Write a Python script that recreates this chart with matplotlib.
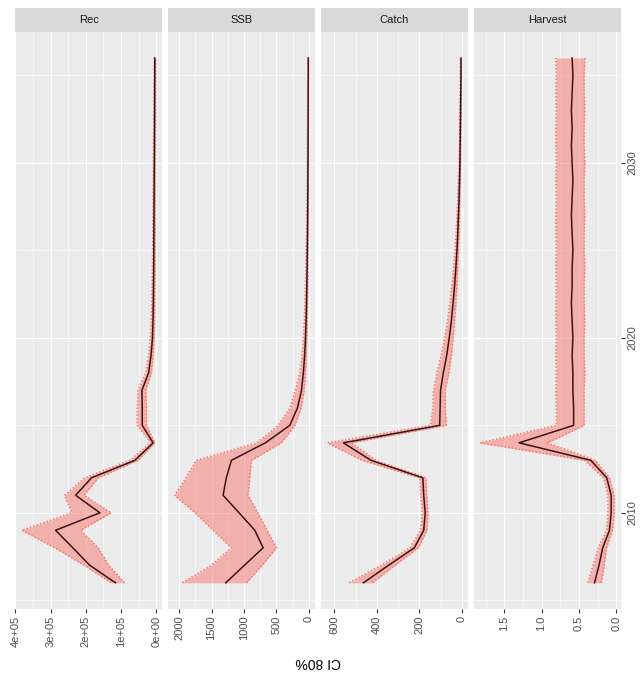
import matplotlib
matplotlib.use("Agg")
import matplotlib.pyplot as plt
from matplotlib.ticker import FixedLocator

plt.rcParams['font.family'] = ['Liberation Sans', 'DejaVu Sans']

years = list(range(2006, 2037))

rec_med = [116000, 189000, 237000, 286000, 160000, 229000, 184000, 61000, 9000, 40000,
           40000, 41000, 22000, 15000, 11000, 9500, 8500, 8000, 7500, 7200,
           7000, 6700, 6400, 6100, 5800, 5500, 5200, 5000, 4800, 4600, 4400]
rec_lo = [90000, 135000, 165000, 215000, 128000, 205000, 165000, 52000, 4000, 28000,
          28000, 30000, 14000, 9000, 6000, 5000, 4500, 4200, 3900, 3700,
          3500, 3300, 3100, 2900, 2700, 2500, 2300, 2200, 2100, 2000, 1900]
rec_hi = [128000, 205000, 288000, 382000, 240000, 260000, 203000, 75000, 16000, 54000,
          54000, 52000, 30000, 22000, 17000, 14500, 13000, 12000, 11200, 10600,
          10000, 9500, 9000, 8500, 8000, 7600, 7200, 6900, 6600, 6300, 6000]

ssb_med = [1281, 993, 705, 833, 1076, 1322, 1272, 1194, 670, 293,
           176, 114, 85, 65, 52, 43, 36, 31, 27, 24,
           21, 19, 17, 15, 14, 13, 12, 11, 10, 9, 9]
ssb_lo = [960, 720, 500, 643, 787, 937, 911, 885, 423, 216,
          119, 73, 52, 40, 32, 26, 22, 19, 16, 14,
          12, 11, 10, 9, 8, 7, 7, 6, 6, 5, 5]
ssb_hi = [1950, 1503, 1194, 1477, 1755, 2070, 1894, 1734, 800, 474,
          290, 210, 140, 105, 85, 70, 60, 52, 45, 40,
          35, 32, 28, 25, 23, 21, 19, 17, 16, 15, 14]

catch_med = [463, 345, 224, 180, 173, 180, 184, 428, 557, 105,
             103, 101, 88, 72, 60, 50, 42, 35, 29, 24,
             20, 17, 14, 12, 10, 9, 8, 7, 6, 5, 5]
catch_lo = [420, 315, 205, 165, 160, 166, 170, 405, 520, 74,
            79, 79, 62, 50, 42, 35, 29, 24, 20, 17,
            14, 12, 10, 8, 7, 6, 5, 5, 4, 4, 3]
catch_hi = [530, 380, 245, 195, 187, 194, 199, 470, 632, 148,
            137, 134, 118, 98, 82, 68, 57, 48, 40, 34,
            28, 24, 20, 17, 14, 12, 11, 10, 9, 8, 7]

harv_med = [0.29, 0.23, 0.18, 0.09, 0.067, 0.067, 0.126, 0.34, 1.30, 0.57,
            0.57, 0.58, 0.58, 0.59, 0.58, 0.59, 0.60, 0.59, 0.59, 0.58,
            0.59, 0.60, 0.59, 0.58, 0.59, 0.60, 0.59, 0.60, 0.59, 0.58, 0.59]
harv_lo = [0.20, 0.16, 0.13, 0.05, 0.025, 0.025, 0.09, 0.28, 0.92, 0.43,
           0.43, 0.43, 0.42, 0.43, 0.43, 0.42, 0.43, 0.43, 0.42, 0.43,
           0.43, 0.42, 0.43, 0.43, 0.42, 0.43, 0.43, 0.42, 0.43, 0.43, 0.42]
harv_hi = [0.38, 0.31, 0.24, 0.13, 0.11, 0.11, 0.17, 0.42, 1.82, 0.80,
           0.80, 0.81, 0.80, 0.81, 0.80, 0.81, 0.81, 0.80, 0.81, 0.80,
           0.81, 0.81, 0.80, 0.81, 0.80, 0.81, 0.81, 0.80, 0.81, 0.80, 0.81]

panels = ["Rec", "SSB", "Catch", "Harvest"]
series = [(rec_med, rec_lo, rec_hi), (ssb_med, ssb_lo, ssb_hi),
          (catch_med, catch_lo, catch_hi), (harv_med, harv_lo, harv_hi)]
major_ticks = [[0, 100000, 200000, 300000, 400000],
               [0, 500, 1000, 1500, 2000],
               [0, 200, 400, 600],
               [0.0, 0.5, 1.0, 1.5]]
tick_labels = [["0e+00", "1e+05", "2e+05", "3e+05", "4e+05"],
               ["0", "500", "1000", "1500", "2000"],
               ["0", "200", "400", "600"],
               ["0.0", "0.5", "1.0", "1.5"]]
year_ticks = [2010, 2020, 2030]
year_labels = ["2010", "2020", "2030"]
xlabel = "CI 80%"

W, H = 641, 675
fig = plt.figure(figsize=(W / 100, H / 100), dpi=100)
fig.patch.set_facecolor("white")

left0, right_end, gap = 15.0, 621.0, 5.5
pw = (right_end - left0 - 3 * gap) / 4
ptop, pbot = 31.75, 609.0
strip_top = 8.5

ribbon = "#F8766D"
line_col = "#3a1414"

for i, (name, (med, lo, hi)) in enumerate(zip(panels, series)):
    x0 = left0 + i * (pw + gap)
    ax = fig.add_axes([x0 / W, 1 - pbot / H, pw / W, (pbot - ptop) / H])
    ax.set_facecolor("#EBEBEB")
    for s in ax.spines.values():
        s.set_visible(False)

    ax.fill_betweenx(years, lo, hi, color=ribbon, alpha=0.5, linewidth=0, zorder=2)
    ax.plot(lo, years, color=ribbon, lw=1.1, ls=(0, (1, 1.3)), zorder=3)
    ax.plot(hi, years, color=ribbon, lw=1.1, ls=(0, (1, 1.3)), zorder=3)
    ax.plot(med, years, color=line_col, lw=1.1, zorder=4)

    mn, mx = min(lo), max(hi)
    r = mx - mn
    ax.set_xlim(mx + 0.05 * r, mn - 0.05 * r)
    yr = years[-1] - years[0]
    ax.set_ylim(years[0] - 0.05 * yr, years[-1] + 0.05 * yr)

    mt = major_ticks[i]
    step = mt[1] - mt[0]
    minors = [mt[0] - step / 2] + [t + step / 2 for t in mt]
    ax.xaxis.set_major_locator(FixedLocator(mt))
    ax.xaxis.set_minor_locator(FixedLocator(minors))
    ax.set_xticklabels(tick_labels[i])
    ax.yaxis.set_major_locator(FixedLocator(year_ticks))
    ax.yaxis.set_minor_locator(FixedLocator([2005, 2015, 2025, 2035]))
    ax.set_yticklabels(year_labels)

    ax.grid(which="major", color="white", lw=0.85)
    ax.grid(which="minor", color="white", lw=0.4)
    ax.set_axisbelow(True)

    ax.tick_params(axis="x", which="major", length=2.6, width=0.8, color="#333333",
                   labelsize=8, labelcolor="#4D4D4D", labelrotation=90, pad=2)
    ax.tick_params(axis="both", which="minor", length=0)
    if i == len(panels) - 1:
        ax.yaxis.tick_right()
        ax.tick_params(axis="y", which="major", length=2.6, width=0.8, color="#333333",
                       labelsize=8, labelcolor="#4D4D4D", pad=2)
        for lab in ax.get_yticklabels():
            lab.set_rotation(90)
            lab.set_va("center")
    else:
        ax.tick_params(axis="y", which="major", left=False, right=False,
                       labelleft=False, labelright=False)

    sax = fig.add_axes([x0 / W, 1 - ptop / H, pw / W, (ptop - strip_top) / H])
    sax.set_facecolor("#D9D9D9")
    sax.set_xticks([])
    sax.set_yticks([])
    for s in sax.spines.values():
        s.set_visible(False)
    sax.text(0.5, 0.5, name, ha="center", va="center", fontsize=8,
             color="#1A1A1A", transform=sax.transAxes)

fig.text((left0 + right_end) / 2 / W, 1 - 662 / H, xlabel, rotation=180,
         ha="center", va="center", fontsize=10, color="black")

fig.savefig("out.png", dpi=100)
